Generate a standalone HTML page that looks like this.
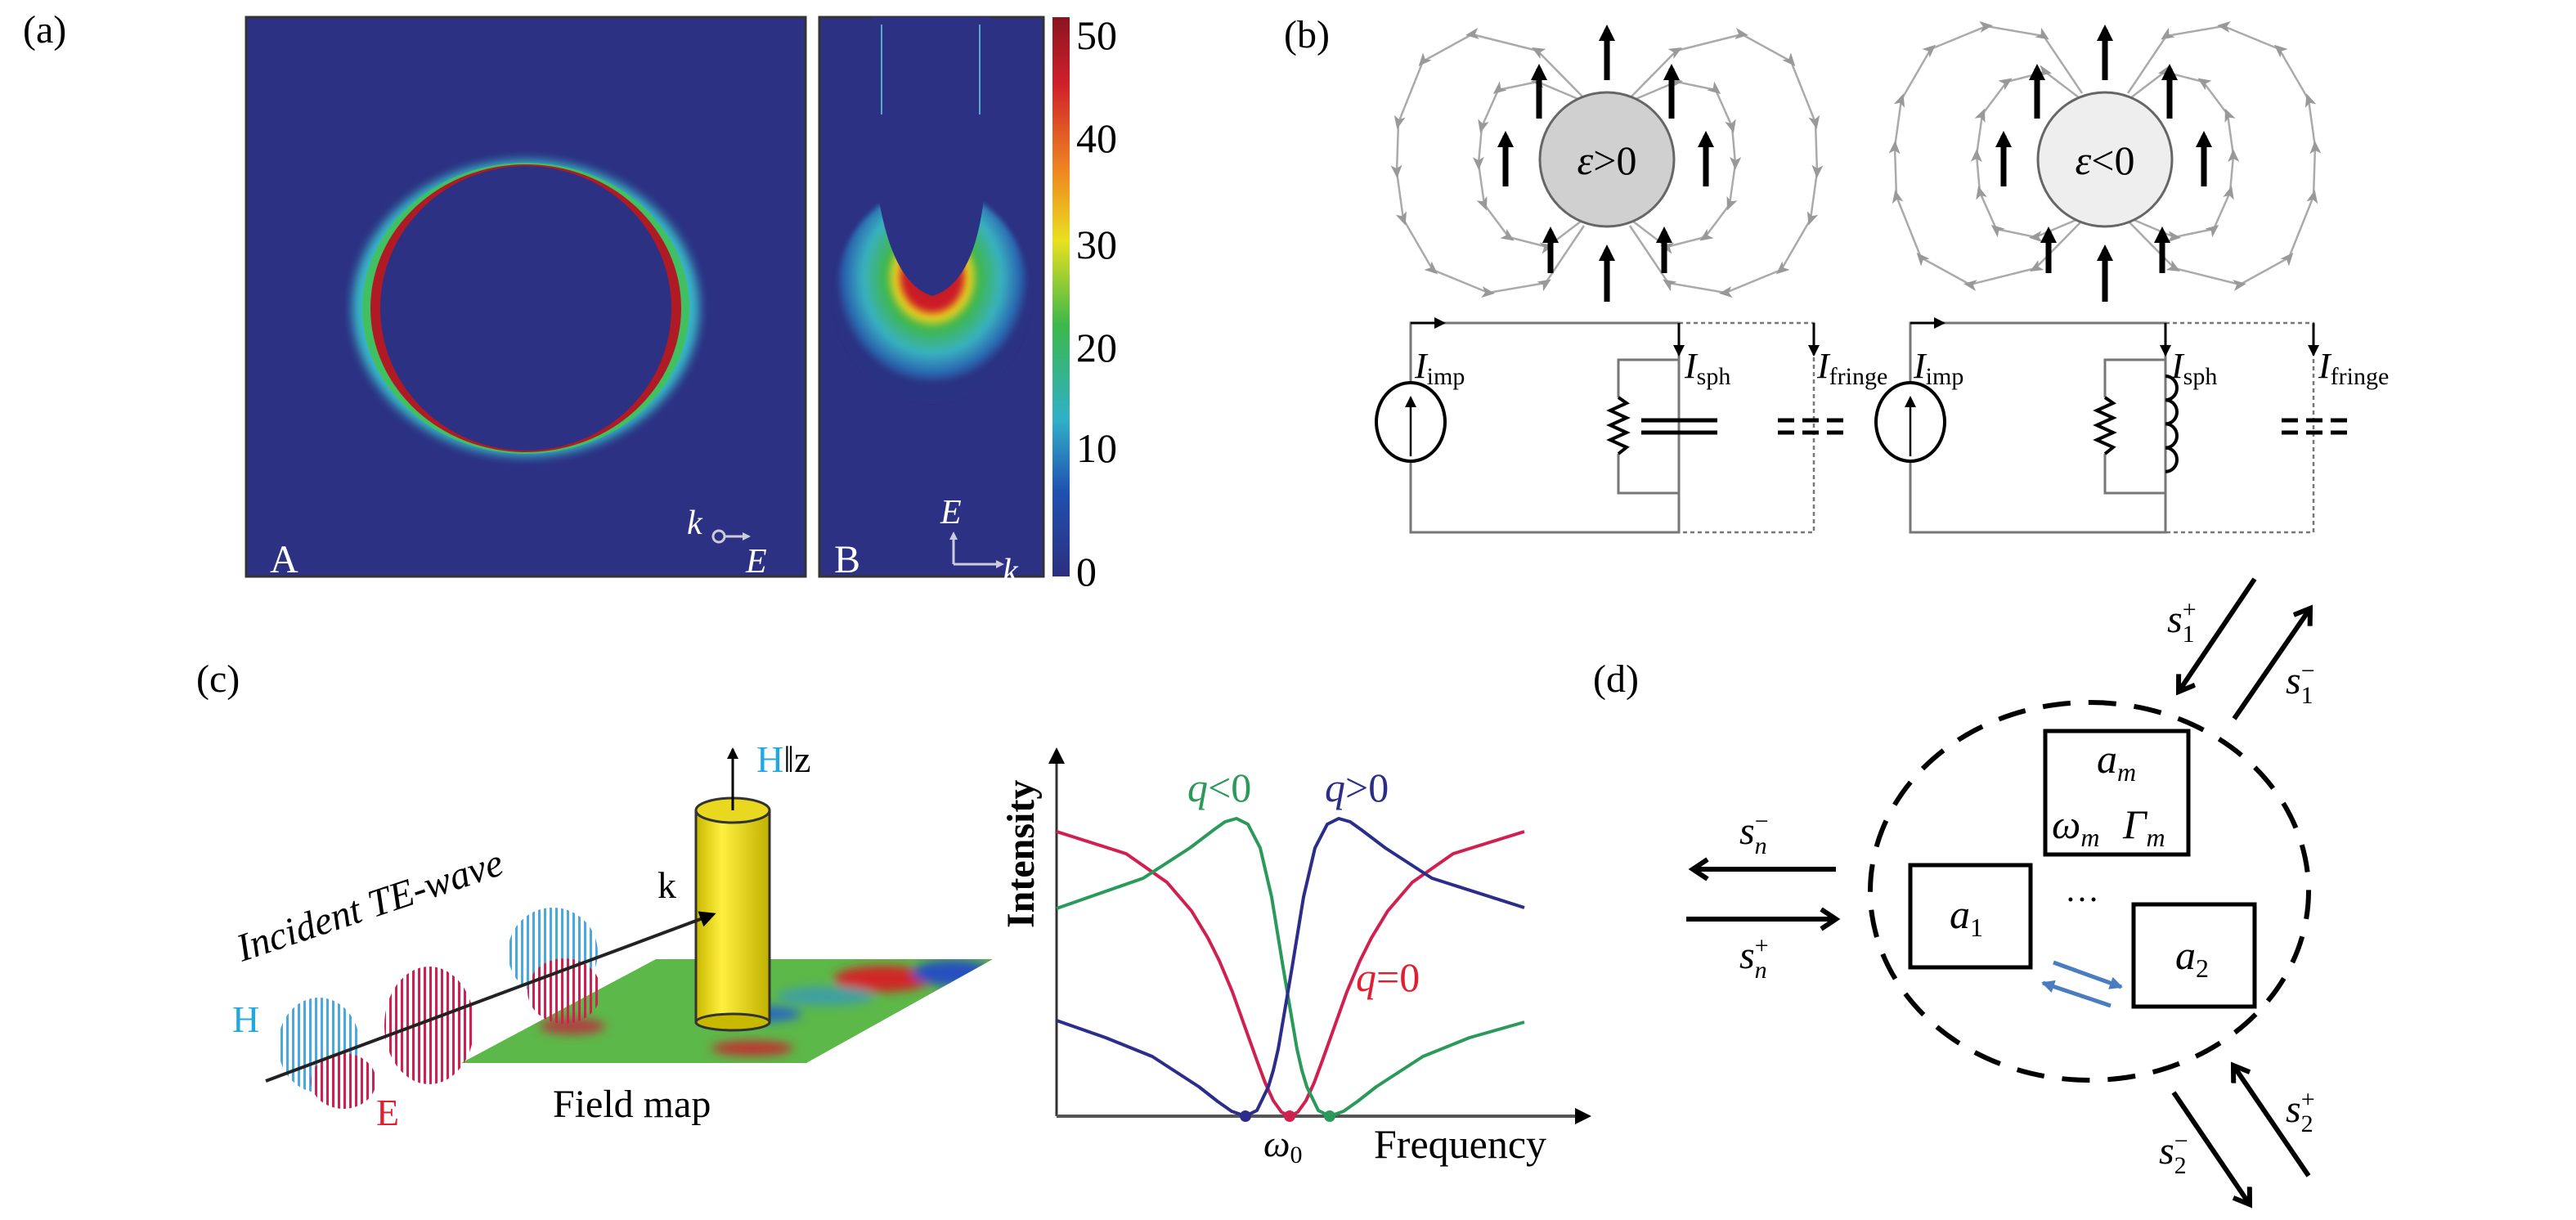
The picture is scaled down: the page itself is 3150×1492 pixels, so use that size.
<!DOCTYPE html>
<html><head><meta charset="utf-8"><style>
html,body{margin:0;padding:0;background:#fff}
svg{display:block}
text{font-family:"Liberation Serif",serif}
</style></head><body>
<svg width="3150" height="1492" viewBox="0 0 3150 1492" xmlns="http://www.w3.org/2000/svg">
<defs>
<marker id="bk" markerUnits="userSpaceOnUse" markerWidth="30" markerHeight="30" refX="14" refY="10" orient="auto"><path d="M0,0 L20,10 L0,20 Z" fill="#000"/></marker>
<marker id="bks" markerUnits="userSpaceOnUse" markerWidth="20" markerHeight="20" refX="12" refY="7" orient="auto"><path d="M0,0 L14,7 L0,14 Z" fill="#000"/></marker>
<marker id="gm" markerUnits="userSpaceOnUse" markerWidth="24" markerHeight="24" refX="8" refY="8" orient="auto"><path d="M0,1 L16,8 L0,15 L4,8 Z" fill="#999"/></marker>
<marker id="op" markerUnits="userSpaceOnUse" markerWidth="40" markerHeight="40" refX="20" refY="14" orient="auto"><path d="M2,2 L20,14 L2,26" fill="none" stroke="#000" stroke-width="6"/></marker>
<marker id="bl" markerUnits="userSpaceOnUse" markerWidth="30" markerHeight="30" refX="14" refY="8" orient="auto"><path d="M0,0 L16,8 L0,16 Z" fill="#4a7cc0"/></marker>
<linearGradient id="cb" x1="0" y1="0" x2="0" y2="1">
<stop offset="0" stop-color="#8a1420"/><stop offset="0.12" stop-color="#d0202a"/><stop offset="0.28" stop-color="#f08a20"/><stop offset="0.4" stop-color="#e8e020"/><stop offset="0.55" stop-color="#3cb84a"/><stop offset="0.72" stop-color="#30b0c8"/><stop offset="0.85" stop-color="#2050b0"/><stop offset="1" stop-color="#2c2f80"/></linearGradient>
<radialGradient id="plume" cx="0.5" cy="0.42" r="0.5">
<stop offset="0" stop-color="#b01a24"/><stop offset="0.3" stop-color="#d02028"/><stop offset="0.38" stop-color="#e8d020"/><stop offset="0.48" stop-color="#40b848"/><stop offset="0.72" stop-color="#38b0c0"/><stop offset="0.9" stop-color="#2a68b0"/><stop offset="1" stop-color="#2c3183"/></radialGradient>
<linearGradient id="cyl" x1="0" y1="0" x2="1" y2="0"><stop offset="0" stop-color="#c8b800"/><stop offset="0.35" stop-color="#fff040"/><stop offset="1" stop-color="#c0b000"/></linearGradient>
<pattern id="hb" width="7" height="10" patternUnits="userSpaceOnUse"><rect x="0" y="0" width="3" height="10" fill="#4aa8e0"/></pattern>
<pattern id="hr" width="7" height="10" patternUnits="userSpaceOnUse"><rect x="0" y="0" width="3" height="10" fill="#d02050"/></pattern>
<filter id="bl4"><feGaussianBlur stdDeviation="6"/></filter>
<filter id="bl2"><feGaussianBlur stdDeviation="3"/></filter>
<clipPath id="fm"><path d="M802,1173 L1214,1173 L986,1300 L564,1300 Z"/></clipPath>
<clipPath id="pa"><rect x="301" y="21" width="684" height="684"/></clipPath>
<clipPath id="pb"><rect x="1002" y="21" width="274" height="684"/></clipPath>
</defs>

<!-- (a) -->
<text x="28" y="52" font-size="48">(a)</text>
<rect x="301" y="21" width="684" height="684" fill="#2c3183" stroke="#333" stroke-width="3"/>
<g clip-path="url(#pa)">
<ellipse cx="643" cy="377" rx="212" ry="181" fill="#38b8c8" filter="url(#bl4)"/>
<ellipse cx="643" cy="377" rx="200" ry="178" fill="#40c060"/>
<ellipse cx="643" cy="377" rx="190" ry="176" fill="#b01a24"/>
<ellipse cx="643" cy="377" rx="178" ry="174" fill="#2c3183"/>
</g>
<text x="330" y="700" font-size="48" fill="#fff">A</text>
<text x="840" y="653" font-size="42" fill="#fff" font-style="italic">k</text>
<circle cx="879" cy="656" r="7" fill="none" stroke="#ccd" stroke-width="3"/>
<line x1="886" y1="656" x2="910" y2="656" stroke="#ccd" stroke-width="3"/><path d="M908,651 L918,656 L908,661Z" fill="#ccd"/>
<text x="912" y="700" font-size="42" fill="#fff" font-style="italic">E</text>

<rect x="1002" y="21" width="274" height="684" fill="#2c3183" stroke="#333" stroke-width="3"/>
<g clip-path="url(#pb)">
<ellipse cx="1140" cy="360" rx="118" ry="130" fill="url(#plume)" filter="url(#bl2)"/>
<path d="M1066,21 L1070,210 Q1085,345 1140,362 Q1198,345 1206,210 L1210,21 Z" fill="#2c3183"/>
<line x1="1078" y1="30" x2="1078" y2="140" stroke="#5ac" stroke-width="2"/>
<line x1="1198" y1="30" x2="1198" y2="140" stroke="#5ac" stroke-width="2"/>
</g>
<text x="1020" y="700" font-size="48" fill="#fff">B</text>
<text x="1150" y="640" font-size="42" fill="#fff" font-style="italic">E</text>
<path d="M1166,690 L1166,656 M1166,690 L1222,690" stroke="#ccd" stroke-width="3" fill="none"/>
<path d="M1161,660 L1166,650 L1171,660Z M1218,685 L1228,690 L1218,695Z" fill="#ccd"/>
<text x="1226" y="712" font-size="42" fill="#fff" font-style="italic">k</text>
<rect x="1287" y="21" width="21" height="684" fill="url(#cb)"/>
<g font-size="50"><text x="1316" y="60">50</text><text x="1316" y="186">40</text><text x="1316" y="316">30</text><text x="1316" y="442">20</text><text x="1316" y="565">10</text><text x="1316" y="716">0</text></g>

<!-- (b) -->
<text x="1570" y="58" font-size="48">(b)</text>
<g fill="none" stroke="#aaa" stroke-width="2.5" marker-mid="url(#gm)">
<polyline points="1935,118 1880,62 1800,42 1740,75 1710,150 1708,210 1716,268 1752,330 1820,358 1890,346 1937,276"/>
<polyline points="1932,122 1880,100 1832,110 1812,155 1808,200 1815,250 1845,290 1892,302 1934,270"/>
<polyline points="1995,118 2050,62 2130,42 2190,75 2220,150 2222,210 2214,268 2178,330 2110,358 2040,346 1993,276"/>
<polyline points="1998,122 2050,100 2098,110 2118,155 2122,200 2115,250 2085,290 2038,302 1996,270"/>
</g>
<circle cx="1965" cy="195" r="82" fill="#d0d0d0" stroke="#666" stroke-width="3"/>
<text x="1965" y="213" font-size="50" text-anchor="middle"><tspan font-style="italic">ε</tspan>&gt;0</text>
<g transform="translate(609,390) scale(1,-1)" fill="none" stroke="#aaa" stroke-width="2.5" marker-mid="url(#gm)">
<polyline points="1935,118 1880,62 1800,42 1740,75 1710,150 1708,210 1716,268 1752,330 1820,358 1890,346 1937,276"/>
<polyline points="1932,122 1880,100 1832,110 1812,155 1808,200 1815,250 1845,290 1892,302 1934,270"/>
<polyline points="1995,118 2050,62 2130,42 2190,75 2220,150 2222,210 2214,268 2178,330 2110,358 2040,346 1993,276"/>
<polyline points="1998,122 2050,100 2098,110 2118,155 2122,200 2115,250 2085,290 2038,302 1996,270"/>
</g>
<circle cx="2574" cy="195" r="82" fill="#eeeeee" stroke="#666" stroke-width="3"/>
<text x="2574" y="213" font-size="50" text-anchor="middle"><tspan font-style="italic">ε</tspan>&lt;0</text>
<g stroke="#000" stroke-width="7" marker-end="url(#bk)">
<line x1="1965" y1="98" x2="1965" y2="36"/><line x1="1882" y1="145" x2="1882" y2="84"/><line x1="2044" y1="145" x2="2044" y2="84"/>
<line x1="1841" y1="228" x2="1841" y2="166"/><line x1="2086" y1="228" x2="2086" y2="166"/>
<line x1="1896" y1="334" x2="1896" y2="283"/><line x1="2035" y1="334" x2="2035" y2="283"/><line x1="1965" y1="369" x2="1965" y2="305"/>
<line x1="2574" y1="98" x2="2574" y2="36"/><line x1="2491" y1="145" x2="2491" y2="84"/><line x1="2653" y1="145" x2="2653" y2="84"/>
<line x1="2450" y1="228" x2="2450" y2="166"/><line x1="2695" y1="228" x2="2695" y2="166"/>
<line x1="2505" y1="334" x2="2505" y2="283"/><line x1="2644" y1="334" x2="2644" y2="283"/><line x1="2574" y1="369" x2="2574" y2="305"/>
</g>
<g fill="none" stroke="#777" stroke-width="3">
<path d="M1725,468 L1725,395 L2053,395 L2053,651 L1725,651 L1725,564"/>
<path d="M2053,440 L1979,440 L1979,486 M1979,555 L1979,603 L2053,603"/>
<path d="M2336,468 L2336,395 L2648,395 L2648,651 L2336,651 L2336,564"/>
<path d="M2648,440 L2574,440 L2574,486 M2574,555 L2574,603 L2648,603"/>
</g>
<g fill="none" stroke="#777" stroke-width="2.5" stroke-dasharray="5,4">
<path d="M2053,395 L2218,395 L2218,651 L2053,651"/>
<path d="M2648,395 L2829,395 L2829,651 L2648,651"/>
</g>
<g stroke="#000" stroke-width="3" marker-end="url(#bks)">
<line x1="1725" y1="395" x2="1766" y2="395"/><line x1="2053" y1="395" x2="2053" y2="434"/><line x1="2218" y1="395" x2="2218" y2="434"/>
<line x1="2336" y1="395" x2="2377" y2="395"/><line x1="2648" y1="395" x2="2648" y2="434"/><line x1="2829" y1="395" x2="2829" y2="434"/>
</g>
<g fill="#fff" stroke="#000" stroke-width="4"><ellipse cx="1725" cy="516" rx="42" ry="48"/><ellipse cx="2336" cy="516" rx="42" ry="48"/></g>
<g stroke="#000" stroke-width="2.5" marker-end="url(#bks)"><line x1="1725" y1="558" x2="1725" y2="486"/><line x1="2336" y1="558" x2="2336" y2="486"/></g>
<g fill="none" stroke="#000" stroke-width="4">
<polyline points="1979,486 1989,493 1969,502 1989,511 1969,520 1989,529 1969,538 1989,547 1979,555"/>
<polyline points="2574,486 2584,493 2564,502 2584,511 2564,520 2584,529 2564,538 2584,547 2574,555"/>
<path d="M2007,514 L2100,514 M2007,529 L2100,529" stroke-width="5"/>
<path d="M2174,514 L2262,514 M2174,529 L2262,529" stroke-width="5" stroke-dasharray="20,10"/>
<path d="M2790,514 L2880,514 M2790,529 L2880,529" stroke-width="5" stroke-dasharray="20,10"/>
<path d="M2648,460 a14,14.6 0 0 1 0,29.2 a14,14.6 0 0 1 0,29.2 a14,14.6 0 0 1 0,29.2 a14,14.6 0 0 1 0,29.2"/>
</g>
<g font-size="44" font-style="italic">
<text x="1730" y="462">I<tspan font-style="normal" font-size="30" dy="8">imp</tspan></text>
<text x="2060" y="462">I<tspan font-style="normal" font-size="30" dy="8">sph</tspan></text>
<text x="2222" y="462">I<tspan font-style="normal" font-size="30" dy="8">fringe</tspan></text>
<text x="2340" y="462">I<tspan font-style="normal" font-size="30" dy="8">imp</tspan></text>
<text x="2655" y="462">I<tspan font-style="normal" font-size="30" dy="8">sph</tspan></text>
<text x="2835" y="462">I<tspan font-style="normal" font-size="30" dy="8">fringe</tspan></text>
</g>

<!-- (c) -->
<text x="240" y="846" font-size="48">(c)</text>
<path d="M802,1173 L1214,1173 L986,1300 L564,1300 Z" fill="#5cb848"/>
<g clip-path="url(#fm)" filter="url(#bl4)">
<ellipse cx="1080" cy="1197" rx="60" ry="16" fill="#d02828"/>
<ellipse cx="1165" cy="1190" rx="50" ry="16" fill="#2850c0"/>
<ellipse cx="930" cy="1240" rx="50" ry="10" fill="#2a6ac0"/>
<ellipse cx="1010" cy="1218" rx="60" ry="12" fill="#40a0a0"/>
<ellipse cx="920" cy="1282" rx="50" ry="9" fill="#c03030"/>
<ellipse cx="700" cy="1255" rx="40" ry="10" fill="#b04040"/>
</g>
<g>
<ellipse cx="390" cy="1278" rx="50" ry="58" fill="url(#hb)"/>
<ellipse cx="525" cy="1254" rx="55" ry="72" fill="url(#hr)"/>
<ellipse cx="676" cy="1165" rx="55" ry="55" fill="url(#hb)"/>
<ellipse cx="420" cy="1322" rx="40" ry="34" fill="url(#hr)"/>
<ellipse cx="690" cy="1212" rx="45" ry="40" fill="url(#hr)"/>
</g>
<rect x="851" y="991" width="90" height="259" fill="url(#cyl)" stroke="#333" stroke-width="3"/>
<ellipse cx="896" cy="1250" rx="45" ry="10" fill="#c8b800" stroke="#333" stroke-width="3"/>
<ellipse cx="896" cy="991" rx="45" ry="15" fill="#e8d820" stroke="#333" stroke-width="3"/>
<line x1="325" y1="1322" x2="870" y2="1119" stroke="#222" stroke-width="4" marker-end="url(#bk)"/>
<line x1="896" y1="991" x2="896" y2="916" stroke="#000" stroke-width="3" marker-end="url(#bks)"/>
<text x="925" y="944" font-size="46"><tspan fill="#22a8e0">H</tspan>‖z</text>
<text x="804" y="1098" font-size="46">k</text>
<text x="0" y="0" font-size="48" font-style="italic" transform="translate(296,1176) rotate(-18.5)">Incident TE-wave</text>
<text x="284" y="1262" font-size="46" fill="#22a8e0">H</text>
<text x="460" y="1376" font-size="46" fill="#e02030">E</text>
<text x="676" y="1366" font-size="48">Field map</text>
<line x1="1292" y1="1365" x2="1292" y2="920" stroke="#333" stroke-width="3" marker-end="url(#bk)"/>
<line x1="1292" y1="1365" x2="1940" y2="1365" stroke="#555" stroke-width="4" marker-end="url(#bk)"/>
<text x="0" y="0" font-size="48" font-weight="bold" transform="translate(1264,1135) rotate(-90)">Intensity</text>
<g fill="none" stroke-width="4" stroke-linejoin="round">
<polyline stroke="#d02050" points="1292,1017 1377,1044 1427,1079 1457,1114 1477,1147 1491,1175 1507,1213 1517,1241 1527,1269 1537,1297 1547,1324 1557,1346 1567,1360 1577,1365 1587,1360 1597,1346 1607,1324 1617,1297 1627,1269 1637,1241 1647,1213 1663,1175 1677,1147 1697,1114 1727,1079 1777,1044 1864,1017"/>
<polyline stroke="#2a9a5a" points="1292,1111 1398,1074 1455,1037 1484,1015 1498,1005 1512,1001 1526,1008 1541,1037 1555,1097 1569,1183 1578,1236 1586,1283 1592,1309 1598,1329 1612,1358 1626,1365 1643,1359 1660,1347 1683,1329 1740,1292 1797,1269 1864,1250"/>
<polyline stroke="#2c2c8a" points="1292,1248 1352,1269 1409,1292 1466,1329 1489,1347 1506,1359 1523,1365 1537,1358 1551,1329 1557,1309 1563,1283 1571,1236 1580,1183 1594,1097 1608,1037 1623,1008 1637,1001 1651,1005 1665,1015 1694,1037 1751,1074 1864,1110"/>
</g>
<circle cx="1523" cy="1365" r="7" fill="#2c2c8a"/><circle cx="1577" cy="1365" r="7" fill="#d02050"/><circle cx="1626" cy="1365" r="7" fill="#2a9a5a"/>
<text x="1452" y="980" font-size="50" fill="#2a9a5a"><tspan font-style="italic">q</tspan>&lt;0</text>
<text x="1620" y="980" font-size="50" fill="#2c2c8a"><tspan font-style="italic">q</tspan>&gt;0</text>
<text x="1658" y="1212" font-size="50" fill="#e02030"><tspan font-style="italic">q</tspan>=0</text>
<text x="1545" y="1414" font-size="46" font-style="italic">ω<tspan font-style="normal" font-size="30" dy="8">0</tspan></text>
<text x="1680" y="1416" font-size="50">Frequency</text>

<!-- (d) -->
<text x="1948" y="846" font-size="48">(d)</text>
<ellipse cx="2555" cy="1090" rx="268" ry="231" fill="none" stroke="#000" stroke-width="6" stroke-dasharray="34,22"/>
<g fill="#fff" stroke="#000" stroke-width="5">
<rect x="2501" y="894" width="175" height="151"/>
<rect x="2336" y="1058" width="147" height="125"/>
<rect x="2609" y="1106" width="148" height="125"/>
</g>
<g font-size="50" font-style="italic">
<text x="2564" y="945">a<tspan font-size="32" dy="10">m</tspan></text>
<text x="2509" y="1025">ω<tspan font-size="32" dy="10">m</tspan></text>
<text x="2596" y="1025">Γ<tspan font-size="32" dy="10">m</tspan></text>
<text x="2384" y="1135">a<tspan font-size="32" dy="10" font-style="normal">1</tspan></text>
<text x="2660" y="1185">a<tspan font-size="32" dy="10" font-style="normal">2</tspan></text>
</g>
<text x="2525" y="1102" font-size="42">…</text>
<g stroke="#4a7cc0" stroke-width="5" marker-end="url(#bl)">
<line x1="2511" y1="1177" x2="2594" y2="1207"/><line x1="2581" y1="1230" x2="2498" y2="1202"/>
</g>
<g stroke="#000" stroke-width="6" marker-end="url(#op)">
<line x1="2245" y1="1063" x2="2070" y2="1063"/>
<line x1="2062" y1="1124" x2="2245" y2="1124"/>
<line x1="2757" y1="708" x2="2664" y2="846"/>
<line x1="2732" y1="879" x2="2825" y2="744"/>
<line x1="2823" y1="1438" x2="2731" y2="1303"/>
<line x1="2658" y1="1336" x2="2751" y2="1473"/>
</g>
<g font-size="48" font-style="italic">
<text x="2127" y="1032">s<tspan font-size="30" dy="-18" font-style="normal">−</tspan><tspan font-size="30" dx="-17" dy="30">n</tspan></text>
<text x="2127" y="1184">s<tspan font-size="30" dy="-18" font-style="normal">+</tspan><tspan font-size="30" dx="-17" dy="30">n</tspan></text>
<text x="2650" y="773">s<tspan font-size="30" dy="-18" font-style="normal">+</tspan><tspan font-size="30" dx="-17" dy="30" font-style="normal">1</tspan></text>
<text x="2795" y="848">s<tspan font-size="30" dy="-18" font-style="normal">−</tspan><tspan font-size="30" dx="-17" dy="30" font-style="normal">1</tspan></text>
<text x="2795" y="1372">s<tspan font-size="30" dy="-18" font-style="normal">+</tspan><tspan font-size="30" dx="-17" dy="30" font-style="normal">2</tspan></text>
<text x="2640" y="1423">s<tspan font-size="30" dy="-18" font-style="normal">−</tspan><tspan font-size="30" dx="-17" dy="30" font-style="normal">2</tspan></text>
</g>
</svg>
</body></html>
